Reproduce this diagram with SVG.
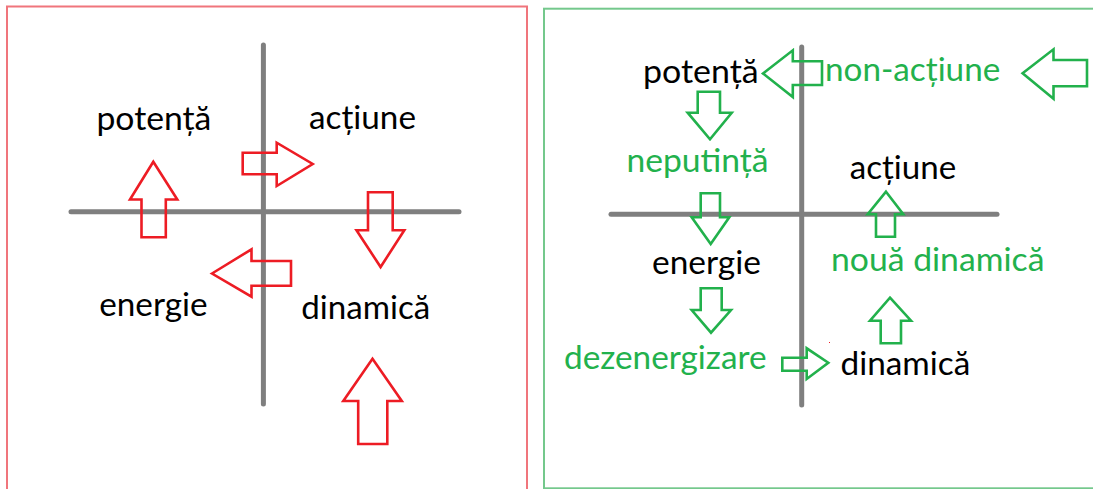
<svg xmlns="http://www.w3.org/2000/svg" width="1093" height="489" viewBox="0 0 1093 489">
<style>
.bg{fill:#ffffff}
.axis{stroke:#7f7f7f;stroke-width:5;stroke-linecap:round;fill:none}
.ra{fill:none;stroke:#ed1c24;stroke-width:2.6;stroke-linejoin:miter}
.ga{fill:none;stroke:#22b14c;stroke-width:2.6;stroke-linejoin:miter}
.t{font-family:Lato,"Open Sans","Liberation Sans",sans-serif;font-size:33px}
.tk{fill:#000000}
.tg{fill:#22b14c}
</style>
<rect class="bg" x="0" y="0" width="1093" height="489"/>
<g id="panel-left">
<rect x="7" y="6.5" width="520" height="490" fill="none" stroke="#f0757c" stroke-width="2"/>
</g>
<g id="panel-right">
<rect x="544" y="8.7" width="560" height="479.6" fill="none" stroke="#74c88c" stroke-width="2"/>
</g>
<g id="axes">
<line class="axis" x1="263.4" y1="45" x2="263.4" y2="404"/>
<line class="axis" x1="71" y1="211.7" x2="459" y2="211.7"/>
<line class="axis" x1="801.7" y1="47" x2="801.7" y2="405"/>
<line class="axis" x1="611" y1="214.3" x2="997" y2="214.3"/>
</g>
<g id="left-labels">
<g id="l-potenta"><text class="t tk" x="96.4" y="130" textLength="115" lengthAdjust="spacingAndGlyphs">potență</text></g>
<g id="l-actiune"><text class="t tk" x="309" y="128.5" textLength="107" lengthAdjust="spacingAndGlyphs">acțiune</text></g>
<g id="l-energie"><text class="t tk" x="99.2" y="316" textLength="108.4" lengthAdjust="spacingAndGlyphs">energie</text></g>
<g id="l-dinamica"><text class="t tk" x="301.3" y="319" textLength="129" lengthAdjust="spacingAndGlyphs">dinamică</text></g>
</g>
<g id="right-labels">
<g id="r-potenta"><text class="t tk" x="643" y="82.7" textLength="115.7" lengthAdjust="spacingAndGlyphs">potență</text></g>
<g id="r-nonactiune"><text class="t tg" x="825" y="81" textLength="175.3" lengthAdjust="spacingAndGlyphs">non-acțiune</text></g>
<g id="r-neputinta"><text class="t tg" x="626.4" y="171.7" textLength="142.2" lengthAdjust="spacingAndGlyphs">neputință</text></g>
<g id="r-actiune"><text class="t tk" x="849.7" y="179" textLength="106.5" lengthAdjust="spacingAndGlyphs">acțiune</text></g>
<g id="r-energie"><text class="t tk" x="652" y="274" textLength="109" lengthAdjust="spacingAndGlyphs">energie</text></g>
<g id="r-noua"><text class="t tg" x="831" y="270.7" textLength="213.4" lengthAdjust="spacingAndGlyphs">nouă dinamică</text></g>
<g id="r-dezenergizare"><text class="t tg" x="564" y="369.3" textLength="202.5" lengthAdjust="spacingAndGlyphs">dezenergizare</text></g>
<g id="r-dinamica"><text class="t tk" x="840.5" y="375" textLength="129.8" lengthAdjust="spacingAndGlyphs">dinamică</text></g>
</g>
<g id="connectors">
<polygon class="ra" points="153.3,161.7 177.3,199.5 165.8,199.5 165.8,237.3 141.5,237.3 141.5,199.5 130,199.5"/>
<polygon class="ra" points="242.7,152.7 276.7,152.7 276.7,142.7 312.7,164 276.7,186 276.7,174.3 242.7,174.3"/>
<polygon class="ra" points="212,273.5 251.5,249.3 251.5,261 291,261 291,285.7 251.5,285.7 251.5,296.7"/>
<polygon class="ra" points="368,192.3 392.7,192.3 392.7,230.3 404.3,230.3 380.6,267 356.5,230.3 368,230.3"/>
<polygon class="ra" points="372.5,358.7 401.8,401 387.3,401 387.3,444 358.2,444 358.2,401 343.3,401"/>
<polygon class="ga" points="763,73.5 792.8,50.3 792.8,61.3 822,61.3 822,85 792.8,85 792.8,97"/>
<polygon class="ga" points="1022.6,73.3 1053.5,49.3 1053.5,60 1087,60 1087,86.2 1053.5,86.2 1053.5,98.8"/>
<polygon class="ga" points="697.7,91.7 720,91.7 720,112.7 731.7,112.7 710,139.3 687.7,112.7 697.7,112.7"/>
<polygon class="ga" points="700.7,193.3 720,193.3 720,217.3 729.3,217.3 710.7,244 691.7,217.3 700.7,217.3"/>
<polygon class="ga" points="700.7,288.3 721.7,288.3 721.7,310 731,310 711,332.7 691.7,310 700.7,310"/>
<polygon class="ga" points="782.3,357.7 806.7,357.7 806.7,348.3 828.3,362.7 806.7,379 806.7,370.7 782.3,370.7"/>
<polygon class="ga" points="886,191.7 903.3,214.3 895,214.3 895,236.7 876,236.7 876,214.3 867.7,214.3"/>
<polygon class="ga" points="890,297.7 911,320.7 901,320.7 901,343.3 880.7,343.3 880.7,320.7 870,320.7"/>
</g>
<rect x="829" y="342" width="1" height="1" fill="#ed1c24"/>
</svg>
